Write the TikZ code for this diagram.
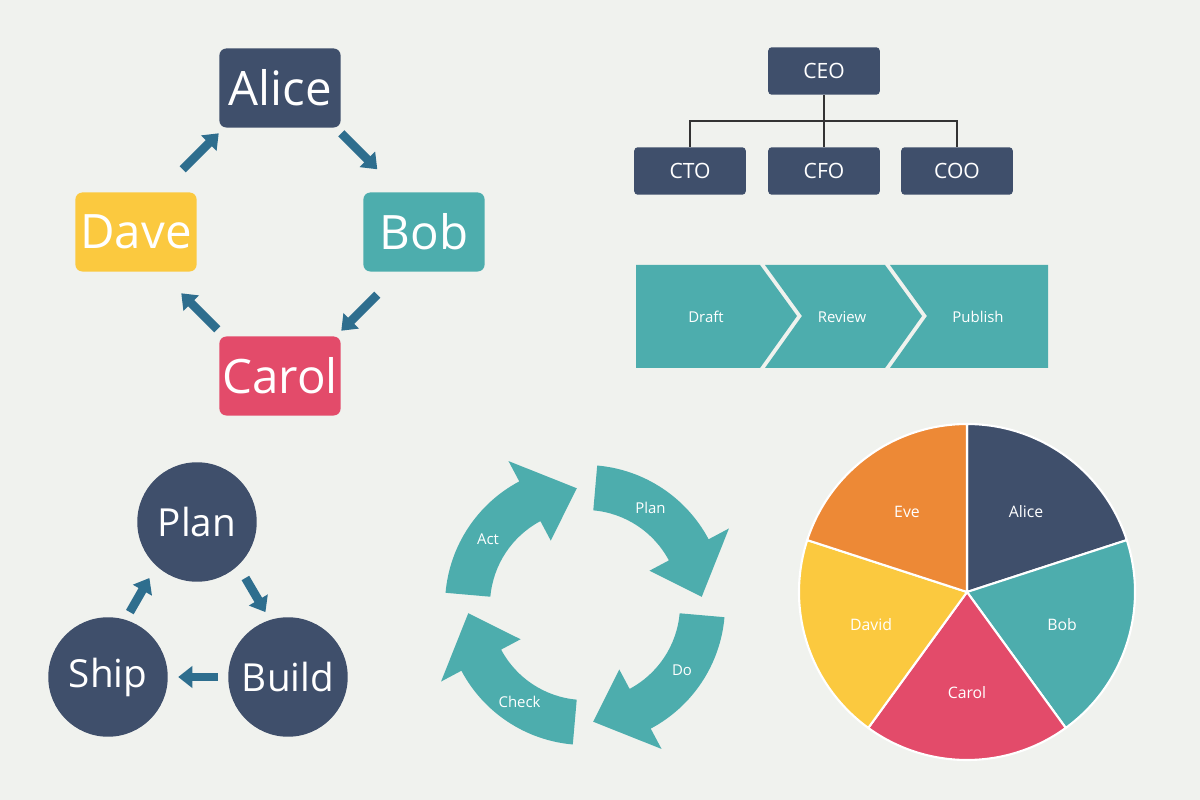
\documentclass[tikz,border=0pt]{standalone}
\usepackage{fontspec}
\setmainfont{Open Sans}
\usetikzlibrary{positioning,calc,arrows.meta}
\definecolor{bgc}{HTML}{F0F2EE}
\definecolor{navy}{HTML}{3F4F6B}
\definecolor{teal}{HTML}{4DADAD}
\definecolor{rose}{HTML}{E34B6A}
\definecolor{sun}{HTML}{FBC93F}
\definecolor{tang}{HTML}{ED8936}
\definecolor{arrowc}{HTML}{2E6E8E}
\tikzset{
  namebox/.style={rounded corners=4pt,minimum width=69pt,minimum height=45pt,inner sep=0pt,text=white,font=\fontsize{27}{30}\selectfont},
  orgbox/.style={rounded corners=2pt,fill=navy,minimum width=63.5pt,minimum height=27pt,inner sep=0pt,text=white,font=\fontsize{12}{14}\selectfont},
  stage/.style={circle,fill=navy,minimum size=68pt,inner sep=0pt,text=white,font=\fontsize{22}{26}\selectfont},
  fat/.style={arrowc,line width=5pt,-{Triangle[width=12pt,length=8pt]}},
  small/.style={text=white,font=\fontsize{8.5}{10}\selectfont},
}
\begin{document}
\begin{tikzpicture}[x=0.02cm,y=-0.02cm]
  \fill[bgc] (0,0) rectangle (1200,800);
  % name cycle
  \node[namebox,fill=navy] (alice) at (280,88) {Alice};
  \node[namebox,fill=teal] (bob) at (424,232) {Bob};
  \node[namebox,fill=rose] (carol) at (280,376) {Carol};
  \node[namebox,fill=sun] (dave) at (136,232) {Dave};
  \draw[fat] ($(alice)!0.37!(bob)+(8,-8)$) -- ($(alice)!0.62!(bob)+(8,-8)$);
  \draw[fat] ($(bob)!0.38!(carol)+(8,8)$) -- ($(bob)!0.63!(carol)+(8,8)$);
  \draw[fat] ($(carol)!0.38!(dave)+(-8,8)$) -- ($(carol)!0.63!(dave)+(-8,8)$);
  \draw[fat] ($(dave)!0.38!(alice)+(-8,-8)$) -- ($(dave)!0.63!(alice)+(-8,-8)$);
  % org chart
  \node[orgbox] (ceo) at (824,71) {CEO};
  \node[orgbox] (cto) at (690,171) {CTO};
  \node[orgbox] (cfo) at (824,171) {CFO};
  \node[orgbox] (coo) at (957,171) {COO};
  \coordinate (bus) at (824,121);
  \draw[black!80,line width=0.8pt] (ceo) -- (cfo);
  \draw[black!80,line width=0.8pt] (cto) |- (bus) -| (coo);
  % chevrons
  \fill[teal] (636,265) -- (760,265) -- (797,316) -- (760,368) -- (636,368) -- cycle;
  \fill[teal] (765,265) -- (885,265) -- (922,316) -- (885,368) -- (765,368) -- (802,316) -- cycle;
  \fill[teal] (890,265) -- (1048,265) -- (1048,368) -- (890,368) -- (927,316) -- cycle;
  \node[small] (draft) at (706,317) {Draft};
  \node[small] (review) at (842,317) {Review};
  \node[small] (publish) at (978,317) {Publish};
  % plan build ship
  \node[stage] (plan) at (197,522) {Plan};
  \node[stage] (build) at (288,677) {Build};
  \node[stage] (ship) at (108,677) {Ship};
  \draw[fat] ($(plan)!0.40!(build)+(12,-6)$) -- ($(plan)!0.62!(build)+(12,-6)$);
  \draw[fat] ($(build)!0.39!(ship)$) -- ($(build)!0.61!(ship)$);
  \draw[fat] ($(ship)!0.38!(plan)+(-12,-6)$) -- ($(ship)!0.60!(plan)+(-12,-6)$);
  % pdca
  \coordinate (hub) at (585,605);
  \foreach \a/\t in {0/Plan,90/Do,180/Check,270/Act}{
    \begin{scope}[shift={(hub)},rotate=-\a]
      \fill[teal] (-85:140) arc (-85:-28:140) -- (-28:163) -- (-4:117)
        -- (-28:73) -- (-28:95) arc (-28:-85:95) -- cycle;
      \node[small] (pdca\t) at (-56:117) {\t};
    \end{scope}
  }
  % pie
  \coordinate (pie) at (967,592);
  \begin{scope}[shift={(pie)},draw=white,line width=1.2pt]
    \filldraw[fill=navy] (0,0) -- (-90:168) arc (-90:-18:168) -- cycle;
    \filldraw[fill=teal] (0,0) -- (-18:168) arc (-18:54:168) -- cycle;
    \filldraw[fill=rose] (0,0) -- (54:168) arc (54:126:168) -- cycle;
    \filldraw[fill=sun] (0,0) -- (126:168) arc (126:198:168) -- cycle;
    \filldraw[fill=tang] (0,0) -- (198:168) arc (198:270:168) -- cycle;
  \end{scope}
  \node[small,font=\fontsize{9}{11}\selectfont] (alicel) at (1026,512) {Alice};
  \node[small,font=\fontsize{9}{11}\selectfont] (bobl) at (1062,625) {Bob};
  \node[small,font=\fontsize{9}{11}\selectfont] (caroll) at (967,693) {Carol};
  \node[small,font=\fontsize{9}{11}\selectfont] (davidl) at (871,625) {David};
  \node[small,font=\fontsize{9}{11}\selectfont] (evel) at (907,512) {Eve};
\end{tikzpicture}
\end{document}
